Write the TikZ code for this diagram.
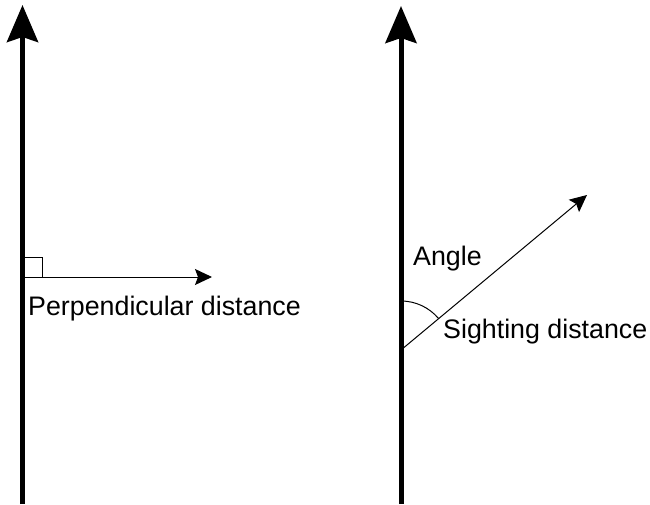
\documentclass[tikz,border=0pt]{standalone}
\usepackage{fontspec}
\setmainfont{Liberation Sans}
\usetikzlibrary{arrows.meta}
\tikzset{road/.style={line width=5pt,-{Stealth[length=37pt,width=31pt,inset=5pt]}},
  sight/.style={line width=1pt,-{Stealth[length=17pt,width=16pt,inset=3pt]}},
  lbl/.style={anchor=base west,inner sep=0pt,font=\fontsize{26.8}{30}\selectfont}}
\begin{document}
\begin{tikzpicture}[x=1pt,y=1pt]
\useasboundingbox (0,0) rectangle (650,504);
\coordinate (A) at (22.5,0); \coordinate (B) at (22.5,499); \coordinate (C) at (401,0); \coordinate (D) at (401,498);
\coordinate (P) at (22.5,227); \coordinate (Q) at (212,227);
\coordinate (O) at (401,154); \coordinate (S) at (587,309);
\draw[road] (A)--(B);
\draw[road] (C)--(D);
\draw[line width=1pt] (P) rectangle ++(20,20);
\draw[sight] (P)--(Q);
\draw[sight] (O)--(S);
\draw[line width=1pt] ([yshift=49pt]O) arc[start angle=90,end angle=40,radius=49];
\node[lbl] (perp) at (28,189) {Perpendicular distance};
\node[lbl] (angle) at (413,239) {Angle};
\node[lbl] (dist) at (443,166) {Sighting distance};
\end{tikzpicture}
\end{document}
